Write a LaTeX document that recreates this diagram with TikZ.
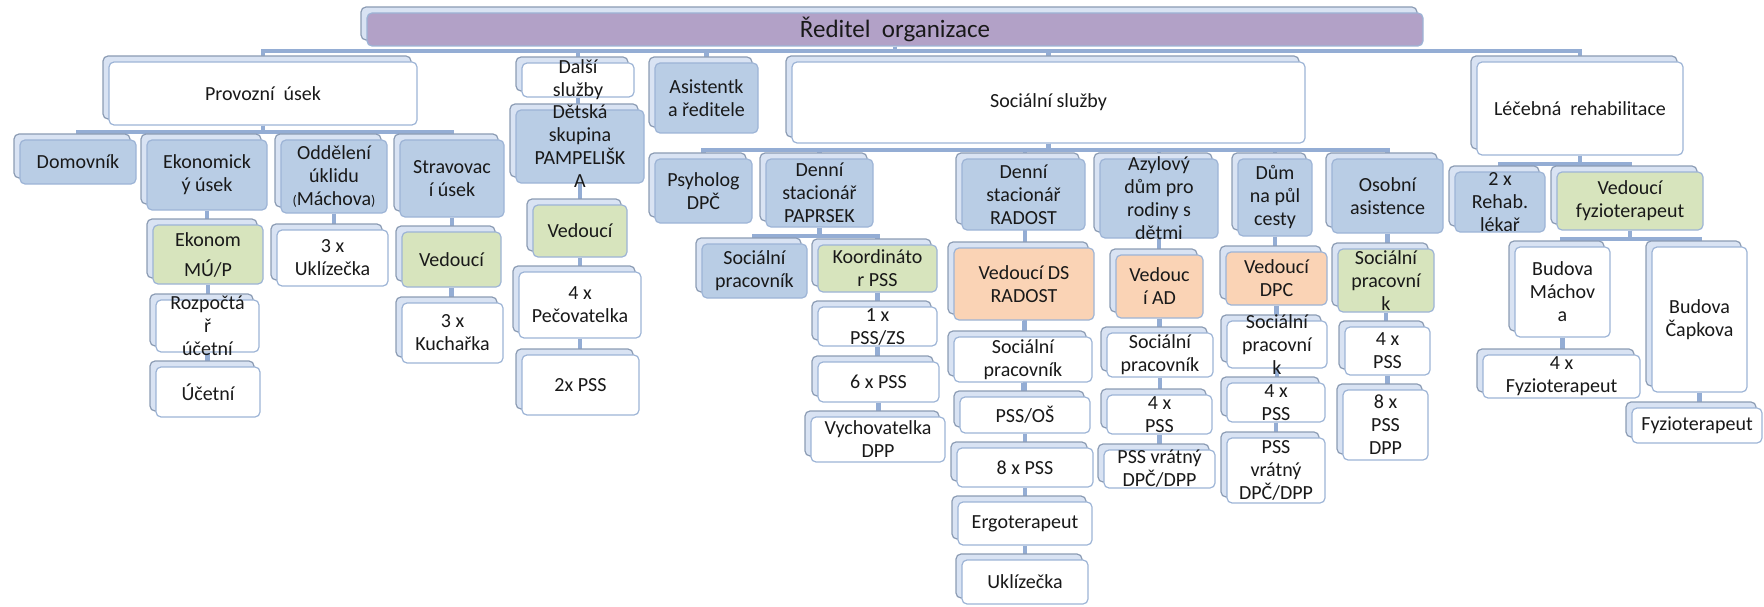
\documentclass[tikz,border=0pt]{standalone}
\usepackage{fontspec}
\setmainfont{Carlito}
\usetikzlibrary{backgrounds}
\pgfdeclarelayer{foreground}
\pgfsetlayers{background,main,foreground}
\definecolor{boxline}{HTML}{9DB4D6}
\definecolor{backfill}{HTML}{D9E3F3}
\definecolor{backline}{HTML}{8C9CB4}
\definecolor{connblue}{HTML}{94ADD4}
\definecolor{cblue}{HTML}{B9CDE5}
\definecolor{cgreen}{HTML}{D7E4BD}
\definecolor{corange}{HTML}{FAD3B5}
\definecolor{cpurple}{HTML}{B2A1C7}
% style, name, x1, y1, x2, y2, text
\newcommand{\orgbox}[7]{%
  \draw[backbox] ({#3-6},{#4-6}) rectangle ({#5-6},{#6-6});
  \node[#1,minimum width={(#5-#3)*1pt},minimum height={(#6-#4)*1pt}] (#2) at ({(#3+#5)/2},{(#4+#6)/2}) {};
  \begin{pgfonlayer}{foreground}
    \node[boxtext] (#2t) at (#2.center) {#7};
  \end{pgfonlayer}}
\newcommand{\parfont}{\fontsize{14}{16}\selectfont}
\begin{document}
\begin{tikzpicture}[x=1pt,y=-1pt,line join=round,
    backbox/.style={draw=backline,fill=backfill,rounded corners=5pt,line width=1.2pt},
    whitebox/.style={draw=boxline,fill=white,rounded corners=5pt,line width=1.2pt,inner sep=0pt},
    bluebox/.style={whitebox,fill=cblue},
    greenbox/.style={whitebox,fill=cgreen},
    orangebox/.style={whitebox,fill=corange},
    purplebox/.style={whitebox,fill=cpurple},
    boxtext/.style={align=center,inner sep=0pt,text=black!90,font=\fontsize{20}{23}\selectfont},
    conn/.style={draw=connblue,line width=4.5pt}]
\useasboundingbox (0,0) rectangle (1764,607);
%Reditel
\orgbox{purplebox}{dir}{367}{13}{1423}{46}{\fontsize{25}{28}\selectfont Ředitel\ \ organizace}
%Provozni usek
\orgbox{whitebox}{prov}{109}{62}{417}{125}{Provozní\ \ úsek}
\orgbox{bluebox}{domov}{20}{140}{136}{184}{Domovník}
\orgbox{bluebox}{ekon}{147}{140}{267}{210}{Ekonomick\\ý úsek}
\orgbox{bluebox}{uklid}{281}{140}{387}{213}{Oddělení\\úklidu\\{\parfont(}Máchova{\parfont)}}
\orgbox{bluebox}{strav}{400}{140}{504}{217}{Stravovac\\í úsek}
\orgbox{greenbox}{ekonom}{153}{225}{263}{284}{Ekonom\\[7pt]MÚ/P}
\orgbox{whitebox}{rozp}{156}{300}{259}{352}{Rozpočtá\\ř\\účetní}
\orgbox{whitebox}{ucetni}{156}{367}{260}{417}{Účetní}
\orgbox{whitebox}{ukl3}{277}{230}{388}{286}{3 x\\Uklízečka}
\orgbox{greenbox}{stravved}{402}{232}{501}{287}{Vedoucí}
\orgbox{whitebox}{kuch}{402}{303}{503}{363}{3 x\\Kuchařka}
%Dalsi sluzby
\orgbox{whitebox}{dalsi}{522}{63}{634}{97}{Další\\služby}
\orgbox{bluebox}{detska}{516}{110}{644}{183}{Dětská\\skupina\\PAMPELIŠK\\A}
\orgbox{greenbox}{detved}{533}{205}{627}{257}{Vedoucí}
\orgbox{whitebox}{pecov}{519}{272}{641}{338}{4 x\\Pečovatelka}
\orgbox{whitebox}{pss2}{522}{355}{639}{415}{2x PSS}
%Asistentka
\orgbox{bluebox}{asist}{655}{63}{758}{133}{Asistentk\\a ředitele}
%Socialni sluzby
\orgbox{whitebox}{soc}{792}{62}{1305}{143}{Sociální služby}
\orgbox{bluebox}{psych}{655}{159}{752}{223}{Psyholog\\DPČ}
\orgbox{bluebox}{paprsek}{766}{159}{873}{227}{Denní\\stacionář\\PAPRSEK}
\orgbox{bluebox}{radost}{962}{159}{1085}{230}{Denní\\stacionář\\RADOST}
\orgbox{bluebox}{azyl}{1100}{159}{1218}{238}{Azylový\\dům pro\\rodiny s\\dětmi}
\orgbox{bluebox}{dum}{1238}{159}{1312}{236}{Dům\\na půl\\cesty}
\orgbox{bluebox}{osobni}{1332}{159}{1443}{233}{Osobní\\asistence}
%Paprsek
\orgbox{bluebox}{papsoc}{702}{244}{807}{298}{Sociální\\pracovník}
\orgbox{greenbox}{koord}{818}{245}{937}{292}{Koordináto\\r PSS}
\orgbox{whitebox}{pzs}{818}{307}{937}{346}{1 x\\PSS/ZS}
\orgbox{whitebox}{p6}{818}{362}{939}{402}{6 x PSS}
\orgbox{whitebox}{vych}{811}{417}{945}{462}{Vychovatelka\\DPP}
%Radost
\orgbox{orangebox}{radved}{954}{248}{1094}{320}{Vedoucí DS\\RADOST}
\orgbox{whitebox}{radsoc}{954}{337}{1092}{382}{Sociální\\pracovník}
\orgbox{whitebox}{rados}{960}{397}{1090}{433}{PSS/OŠ}
\orgbox{whitebox}{rad8}{957}{448}{1093}{487}{8 x PSS}
\orgbox{whitebox}{ergo}{958}{502}{1092}{545}{Ergoterapeut}
\orgbox{whitebox}{radukl}{962}{560}{1088}{604}{Uklízečka}
%Azylovy dum
\orgbox{orangebox}{azved}{1116}{255}{1203}{318}{Vedouc\\í AD}
\orgbox{whitebox}{azsoc}{1107}{333}{1213}{377}{Sociální\\pracovník}
\orgbox{whitebox}{az4}{1107}{395}{1212}{434}{4 x\\PSS}
\orgbox{whitebox}{azvr}{1104}{450}{1215}{488}{PSS vrátný\\DPČ/DPP}
%Dum na pul cesty
\orgbox{orangebox}{dumved}{1226}{252}{1327}{305}{Vedoucí\\DPC}
\orgbox{whitebox}{dumsoc}{1227}{321}{1327}{368}{Sociální\\pracovní\\k}
\orgbox{whitebox}{dum4}{1227}{383}{1325}{422}{4 x\\PSS}
\orgbox{whitebox}{dumvr}{1227}{438}{1325}{503}{PSS\\vrátný\\DPČ/DPP}
%Osobni asistence
\orgbox{greenbox}{ossoc}{1338}{249}{1434}{312}{Sociální\\pracovní\\k}
\orgbox{whitebox}{os4}{1345}{327}{1430}{375}{4 x\\PSS}
\orgbox{whitebox}{os8}{1343}{390}{1428}{460}{8 x\\PSS\\DPP}
%Lecebna rehabilitace
\orgbox{whitebox}{lecba}{1477}{62}{1683}{155}{Léčebná\ \ rehabilitace}
\orgbox{bluebox}{rehab}{1455}{172}{1545}{232}{2 x\\Rehab.\\lékař}
\orgbox{greenbox}{fyzved}{1557}{172}{1703}{230}{Vedoucí\\fyzioterapeut}
\orgbox{whitebox}{machova}{1515}{247}{1610}{337}{Budova\\Máchov\\a}
\orgbox{whitebox}{capkova}{1652}{247}{1747}{392}{Budova\\Čapkova}
\orgbox{whitebox}{fyz4}{1483}{355}{1640}{398}{4 x\\Fyzioterapeut}
\orgbox{whitebox}{fyz1}{1632}{408}{1762}{443}{Fyzioterapeut}
%Spojnice
\begin{pgfonlayer}{background}
  \coordinate (dirbar) at (0,51);
  \coordinate (provbar) at (0,132);
  \coordinate (socbar) at (0,150);
  \coordinate (papbar) at (0,236);
  \coordinate (lecbar) at (0,164);
  \coordinate (fyzbar) at (0,239);
  \foreach \c in {prov,dalsi,asist,soc,lecba}
    \draw[conn] (dir.south) |- (\c.north |- dirbar) -- (\c.north);
  \foreach \c in {domov,ekon,uklid,strav}
    \draw[conn] (prov.south) |- (\c.north |- provbar) -- (\c.north);
  \foreach \c in {psych,paprsek,radost,azyl,dum,osobni}
    \draw[conn] (soc.south) |- (\c.north |- socbar) -- (\c.north);
  \foreach \c in {papsoc,koord}
    \draw[conn] (paprsek.south) |- (\c.north |- papbar) -- (\c.north);
  \foreach \c in {rehab,fyzved}
    \draw[conn] (lecba.south) |- (\c.north |- lecbar) -- (\c.north);
  \foreach \c in {machova,capkova}
    \draw[conn] (fyzved.south) |- (\c.north |- fyzbar) -- (\c.north);
  \foreach \a/\b in {ekon/ekonom,ekonom/rozp,rozp/ucetni,uklid/ukl3,strav/stravved,stravved/kuch,
      dalsi/detska,detska/detved,detved/pecov,pecov/pss2,koord/pzs,pzs/p6,p6/vych,
      radost/radved,radved/radsoc,radsoc/rados,rados/rad8,rad8/ergo,ergo/radukl,
      azyl/azved,azved/azsoc,azsoc/az4,az4/azvr,dum/dumved,dumved/dumsoc,dumsoc/dum4,dum4/dumvr,
      osobni/ossoc,ossoc/os4,os4/os8,machova/fyz4,capkova/fyz1}
    \draw[conn] (\a.south) -- (\a.south |- \b.north);
\end{pgfonlayer}
\end{tikzpicture}
\end{document}
